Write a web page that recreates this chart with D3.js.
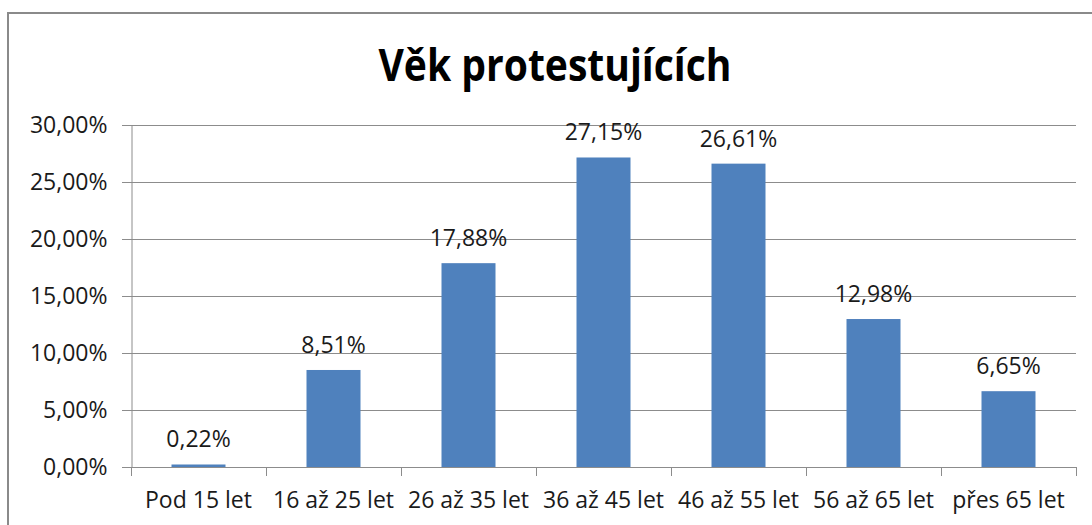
<!DOCTYPE html>
<html>
<head>
<meta charset="utf-8">
<script src="https://cdn.jsdelivr.net/npm/d3@7"></script>
<style>
  body { margin: 0; background: #fff; }
  text { font-family: "Open Sans", "DejaVu Sans", sans-serif; fill: #1a1a1a; }
</style>
</head>
<body>
<div id="chart"></div>
<script>

var width = 1092;
var height = 525;

// data
var categories = ["Pod 15 let", "16 až 25 let", "26 až 35 let", "36 až 45 let", "46 až 55 let", "56 až 65 let", "přes 65 let"];
var values = [0.22, 8.51, 17.88, 27.15, 26.61, 12.98, 6.65];
var yTicks = [0, 5, 10, 15, 20, 25, 30];
var title = "Věk protestujících";

var plot = { left: 131, right: 1076, top: 125, bottom: 467 };

var fmt = function(v) { return v.toFixed(2).replace(".", ",") + "%"; };

var svg = d3.select("#chart")
	.append("svg")
	.attr("width", width)
	.attr("height", height);

// outer chart border (runs off the right and bottom edges)
svg.append("rect")
	.attr("x", 8)
	.attr("y", 13)
	.attr("width", 1200)
	.attr("height", 600)
	.attr("fill", "none")
	.attr("stroke", "#8a8a8a")
	.attr("stroke-width", 2);

var xScale = d3.scaleBand()
	.domain(categories)
	.range([plot.left, plot.right])
	.paddingInner(0.6)
	.paddingOuter(0.3);

var yScale = d3.scaleLinear()
	.domain([0, 30])
	.range([plot.bottom, plot.top]);

// gridlines
svg.append("g")
	.selectAll("line")
	.data(yTicks)
	.enter().append("line")
	.attr("x1", plot.left - 9)
	.attr("x2", plot.right)
	.attr("y1", function(d) { return yScale(d) + 0.5; })
	.attr("y2", function(d) { return yScale(d) + 0.5; })
	.attr("stroke", "#8c8c8c")
	.attr("stroke-width", 1);

// y axis
var yAxis = svg.append("g")
	.attr("transform", "translate(" + (plot.left + 0.5) + ",0)")
	.call(d3.axisLeft(yScale).tickValues(yTicks).tickSize(9).tickPadding(15).tickFormat(fmt));
yAxis.select(".domain").attr("stroke", "#8c8c8c");
yAxis.selectAll(".tick line").attr("stroke", "#8c8c8c");
yAxis.selectAll("text")
	.attr("font-size", "23px")
	.attr("font-family", null)
	.style("fill", "#1a1a1a");

// x axis: tick marks at category boundaries
var bounds = categories.map(function(c) { return xScale(c) - xScale.step() * 0.3; });
bounds.push(plot.right);
svg.append("g")
	.selectAll("line")
	.data(bounds)
	.enter().append("line")
	.attr("x1", function(d) { return Math.round(d) + 0.5; })
	.attr("x2", function(d) { return Math.round(d) + 0.5; })
	.attr("y1", plot.bottom)
	.attr("y2", plot.bottom + 9)
	.attr("stroke", "#8c8c8c");

svg.append("g")
	.selectAll("text")
	.data(categories)
	.enter().append("text")
	.attr("x", function(d) { return xScale(d) + xScale.bandwidth() / 2; })
	.attr("y", 508)
	.attr("text-anchor", "middle")
	.attr("font-size", "23px")
	.text(function(d) { return d; });

// bars
svg.append("g")
	.selectAll("rect")
	.data(values)
	.enter().append("rect")
	.attr("x", function(d, i) { return xScale(categories[i]); })
	.attr("width", xScale.bandwidth())
	.attr("y", function(d) { return yScale(d); })
	.attr("height", function(d) { return yScale(0) - yScale(d); })
	.attr("fill", "#4f81bd");

// value labels
svg.append("g")
	.selectAll("text")
	.data(values)
	.enter().append("text")
	.attr("x", function(d, i) { return xScale(categories[i]) + xScale.bandwidth() / 2; })
	.attr("y", function(d) { return yScale(d) - 17; })
	.attr("text-anchor", "middle")
	.attr("font-size", "23px")
	.text(fmt);

// title
svg.append("text")
	.attr("x", 555)
	.attr("y", 81)
	.attr("text-anchor", "middle")
	.attr("font-size", "44px")
	.attr("font-weight", "bold")
	.attr("textLength", 353)
	.attr("lengthAdjust", "spacingAndGlyphs")
	.style("fill", "#000")
	.text(title);

</script>
</body>
</html>
